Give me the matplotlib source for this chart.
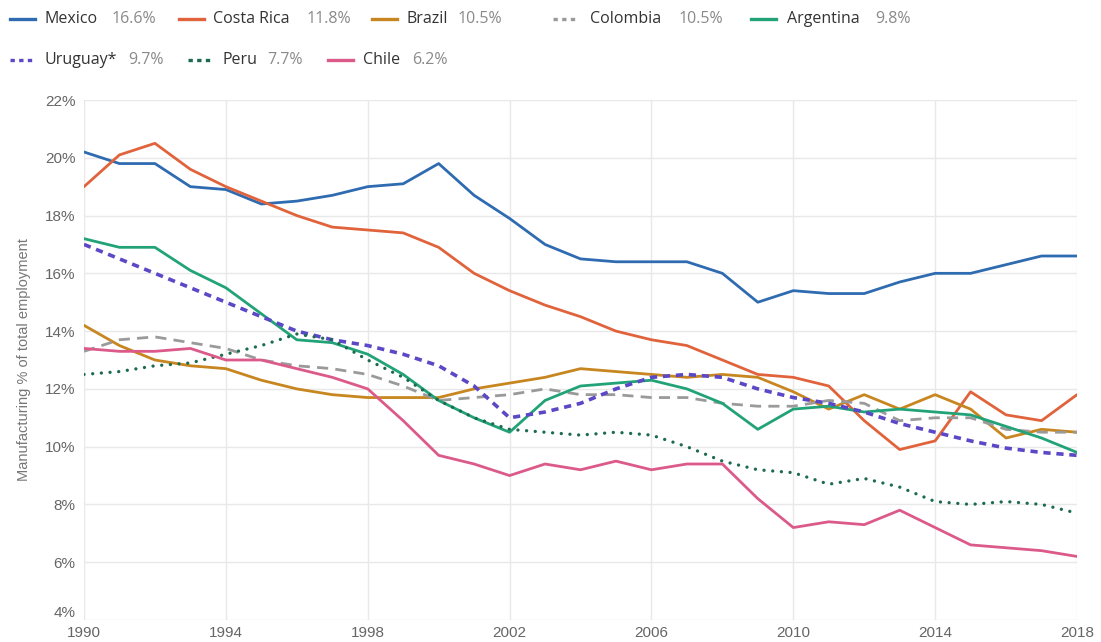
import matplotlib
matplotlib.use("Agg")
import matplotlib.pyplot as plt
from matplotlib.lines import Line2D
from matplotlib.ticker import FuncFormatter, MultipleLocator

years = list(range(1990, 2019))
mexico = [20.2, 19.8, 19.8, 19.0, 18.9, 18.4, 18.5, 18.7, 19.0, 19.1, 19.8, 18.7, 17.9, 17.0, 16.5,
          16.4, 16.4, 16.4, 16.0, 15.0, 15.4, 15.3, 15.3, 15.7, 16.0, 16.0, 16.3, 16.6, 16.6]
costa_rica = [19.0, 20.1, 20.5, 19.6, 19.0, 18.5, 18.0, 17.6, 17.5, 17.4, 16.9, 16.0, 15.4, 14.9, 14.5,
              14.0, 13.7, 13.5, 13.0, 12.5, 12.4, 12.1, 10.9, 9.9, 10.2, 11.9, 11.1, 10.9, 11.8]
brazil = [14.2, 13.5, 13.0, 12.8, 12.7, 12.3, 12.0, 11.8, 11.7, 11.7, 11.7, 12.0, 12.2, 12.4, 12.7,
          12.6, 12.5, 12.4, 12.5, 12.4, 11.9, 11.3, 11.8, 11.3, 11.8, 11.3, 10.3, 10.6, 10.5]
colombia = [13.3, 13.7, 13.8, 13.6, 13.4, 13.0, 12.8, 12.7, 12.5, 12.1, 11.6, 11.7, 11.8, 12.0, 11.8,
            11.8, 11.7, 11.7, 11.5, 11.4, 11.4, 11.6, 11.5, 10.9, 11.0, 11.0, 10.6, 10.5, 10.5]
argentina = [17.2, 16.9, 16.9, 16.1, 15.5, 14.6, 13.7, 13.6, 13.2, 12.5, 11.6, 11.0, 10.5, 11.6, 12.1,
             12.2, 12.3, 12.0, 11.5, 10.6, 11.3, 11.4, 11.2, 11.3, 11.2, 11.1, 10.7, 10.3, 9.8]
uruguay = [17.0, 16.5, 16.0, 15.5, 15.0, 14.5, 14.0, 13.7, 13.5, 13.2, 12.8, 12.1, 11.0, 11.2, 11.5,
           12.0, 12.4, 12.5, 12.4, 12.0, 11.7, 11.5, 11.2, 10.8, 10.5, 10.2, 9.95, 9.8, 9.7]
peru = [12.5, 12.6, 12.8, 12.9, 13.2, 13.5, 13.9, 13.7, 13.0, 12.4, 11.6, 11.0, 10.6, 10.5, 10.4,
        10.5, 10.4, 10.0, 9.5, 9.2, 9.1, 8.7, 8.9, 8.6, 8.1, 8.0, 8.1, 8.0, 7.7]
chile = [13.4, 13.3, 13.3, 13.4, 13.0, 13.0, 12.7, 12.4, 12.0, 10.9, 9.7, 9.4, 9.0, 9.4, 9.2,
         9.5, 9.2, 9.4, 9.4, 8.2, 7.2, 7.4, 7.3, 7.8, 7.2, 6.6, 6.5, 6.4, 6.2]

names = ["Mexico", "Costa Rica", "Brazil", "Colombia", "Argentina", "Uruguay*", "Peru", "Chile"]
latest = ["16.6%", "11.8%", "10.5%", "10.5%", "9.8%", "9.7%", "7.7%", "6.2%"]
xticks = [1990, 1994, 1998, 2002, 2006, 2010, 2014, 2018]
series = [mexico, costa_rica, brazil, colombia, argentina, uruguay, peru, chile]
colors = ["#2f6bb0", "#e0633b", "#c7861f", "#9a9a9a", "#22a377", "#5b48c6", "#1d6b4e", "#dc5a8a"]
styles = [
    dict(ls="-", lw=2.0),
    dict(ls="-", lw=2.0),
    dict(ls="-", lw=2.0),
    dict(ls=(0, (4.0, 2.6)), lw=2.0),
    dict(ls="-", lw=2.0),
    dict(ls=(0, (2.0, 1.6)), lw=2.6),
    dict(ls=(0, (0.01, 2.6)), lw=2.4, dash_capstyle="round"),
    dict(ls="-", lw=2.0),
]
legend_styles = [
    dict(ls="-", lw=2.4),
    dict(ls="-", lw=2.4),
    dict(ls="-", lw=2.4),
    dict(ls=(0, (1.3, 1.3)), lw=2.4),
    dict(ls="-", lw=2.4),
    dict(ls=(0, (1.3, 1.3)), lw=2.4),
    dict(ls=(0, (1.3, 1.3)), lw=2.4),
    dict(ls="-", lw=2.4),
]

plt.rcParams['font.family'] = ['Open Sans', 'DejaVu Sans']
tick_font = ["Liberation Sans", "DejaVu Sans"]

W, H = 1101, 642
fig = plt.figure(figsize=(W / 100, H / 100), dpi=100)
x0, x1, ytop, ybot = 84, 1077, 100, 620
ax = fig.add_axes([x0 / W, (H - ybot) / H, (x1 - x0) / W, (ybot - ytop) / H])

draw_order = [3, 6, 5, 7, 4, 2, 1, 0]
for i in draw_order:
    st = dict(styles[i])
    ls = st.pop("ls")
    lw = st.pop("lw")
    ax.plot(years, series[i], color=colors[i], linestyle=ls, linewidth=lw,
            solid_joinstyle="round", solid_capstyle="round", zorder=3 + i * 0.01, **st)

ax.set_xlim(1990, 2018)
ax.set_ylim(4, 22)
ax.set_xticks(xticks)
ax.set_xticklabels([str(t) for t in xticks])
ax.yaxis.set_major_locator(MultipleLocator(2))
ax.yaxis.set_major_formatter(FuncFormatter(lambda v, p: f"{int(round(v))}%"))
ax.grid(True, color="#e8e8e8", linewidth=1.0, zorder=0)
for s in ax.spines.values():
    s.set_visible(False)
ax.tick_params(axis="both", length=0, colors="#666666", labelsize=11, labelfontfamily=tick_font)
ax.tick_params(axis="x", pad=4)
ax.tick_params(axis="y", pad=6)
ax.set_ylabel("Manufacturing % of total employment", color="#777777", fontsize=10.5,
              fontfamily=tick_font, labelpad=10)
# lift the bottom y label a touch, as in the reference
ylabels = ax.get_yticklabels()
fig.canvas.draw()
for lab in ax.get_yticklabels():
    if lab.get_text() == "4%":
        lab.set_va("bottom")
        lab.set_y(4)

# custom legend
rows = [
    [(10, 45, 112), (179, 213, 307), (372, 406, 458), (553, 590, 679), (751, 787, 875)],
    [(10, 45, 128), (188, 223, 267), (328, 363, 412)],
]
row_y = [19, 60]
k = 0
for r, row in enumerate(rows):
    for (lx, tx, vx) in row:
        yy = 1 - row_y[r] / H
        st = dict(legend_styles[k])
        ls = st.pop("ls")
        lw = st.pop("lw")
        fig.add_artist(Line2D([lx / W, (lx + 25) / W], [yy, yy], color=colors[k],
                              linestyle=ls, linewidth=lw, transform=fig.transFigure, **st))
        fig.text(tx / W, yy, names[k], color="#333333", fontsize=11.5, va="center", ha="left")
        fig.text(vx / W, yy, latest[k], color="#8a8a8a", fontsize=11.5, va="center", ha="left")
        k += 1

fig.savefig("out.png", dpi=100)
